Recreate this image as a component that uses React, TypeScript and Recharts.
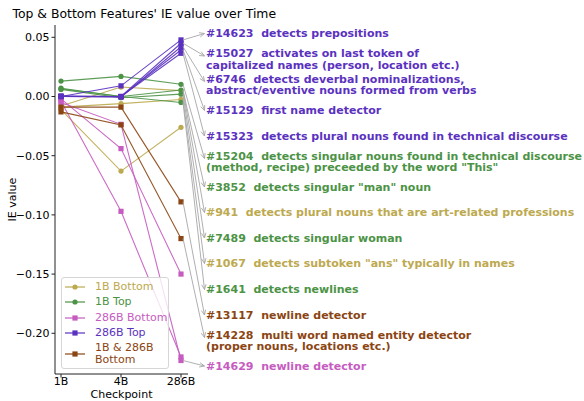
import React from 'react';
import { LineChart, Line, XAxis, YAxis, Legend, LabelList, Label } from 'recharts';

const checkpoints = ['1B', '4B', '286B'];

// IE value of each feature at 1B, 4B, 286B
const bottom1B = [
  [-0.008, 0.008, 0.005],
  [-0.009, -0.006, -0.0025],
  [-0.011, -0.063, -0.026],
];
const top1B = [
  [0.013, 0.017, 0.0103],
  [0.007, 0.0, 0.0055],
  [0.006, -0.001, 0.002],
  [0.0065, 0.0, -0.005],
];
const bottom286B = [
  [-0.002, -0.044, -0.15],
  [-0.004, -0.097, -0.22],
  [-0.005, -0.0235, -0.223],
];
const top286B = [
  [0.0, 0.009, 0.0478],
  [0.0, 0.0, 0.045],
  [0.0, -0.0005, 0.042],
  [0.0005, 0.0, 0.0393],
  [0.0, 0.0, 0.0365],
];
const bottomBoth = [
  [-0.009, -0.009, -0.089],
  [-0.013, -0.024, -0.12],
];

const yTicks = [-0.2, -0.15, -0.1, -0.05, 0, 0.05];

const groups = [
  { name: '1B Bottom', color: '#bda94f', shape: 'circle', values: bottom1B },
  { name: '1B Top', color: '#4c9346', shape: 'circle', values: top1B },
  { name: '286B Bottom', color: '#c65cc0', shape: 'square', values: bottom286B },
  { name: '286B Top', color: '#5b32c0', shape: 'square', values: top286B },
  { name: '1B & 286B\nBottom', color: '#8b4513', shape: 'square', values: bottomBoth },
];

// feature labels: which line (group, index) they point at
const featureNotes = [
  { group: 3, line: 0, text: ['#14623  detects prepositions'] },
  { group: 3, line: 1, text: ['#15027  activates on last token of', 'capitalized names (person, location etc.)'] },
  { group: 3, line: 2, text: ['#6746  detects deverbal nominalizations,', 'abstract/eventive nouns formed from verbs'] },
  { group: 3, line: 3, text: ['#15129  first name detector'] },
  { group: 3, line: 4, text: ['#15323  detects plural nouns found in technical discourse'] },
  { group: 1, line: 0, text: ['#15204  detects singular nouns found in technical discourse', '(method, recipe) preceeded by the word "This"'] },
  { group: 1, line: 1, text: ['#3852  detects singular "man" noun'] },
  { group: 0, line: 0, text: ['#941  detects plural nouns that are art-related professions'] },
  { group: 1, line: 2, text: ['#7489  detects singular woman'] },
  { group: 0, line: 1, text: ['#1067  detects subtoken "ans" typically in names'] },
  { group: 1, line: 3, text: ['#1641  detects newlines'] },
  { group: 4, line: 0, text: ['#13117  newline detector'] },
  { group: 4, line: 1, text: ['#14228  multi word named entity detector', '(proper nouns, locations etc.)'] },
  { group: 2, line: 2, text: ['#14629  newline detector'] },
];
const noteY = [33, 54, 79.5, 110, 135.5, 156.5, 186.5, 212, 237.5, 263, 289, 314.5, 335.5, 365.5];

const font = 'DejaVu Sans';

const data = checkpoints.map((c, i) => {
  const row: any = { ckpt: c };
  groups.forEach((g, gi) => g.values.forEach((v, vi) => { row[`g${gi}_${vi}`] = v[i]; }));
  return row;
});

const fmt = (v: number) => (v < 0 ? '\u2212' : '') + Math.abs(v).toFixed(2);

const makeDot = (color: string, shape: string) => (p: any) => {
  const { cx, cy, index } = p;
  if (cx == null || cy == null) return <g key={index} />;
  return shape === 'square'
    ? <rect key={index} x={cx - 2.6} y={cy - 2.6} width={5.2} height={5.2} fill={color} />
    : <circle key={index} cx={cx} cy={cy} r={2.6} fill={color} />;
};

const makeNote = (text: string[], color: string, ty: number) => (p: any) => {
  if (p.index !== 2) return null;
  const vb = p.viewBox || {};
  const px = p.x ?? vb.x;
  const py = p.y ?? vb.y;
  if (px == null || py == null) return null;
  const multi = text.length > 1;
  const tipX = 204.5;
  const tipY = multi ? ty + 2 : ty + 0.5;
  const dx = tipX - px;
  const dy = tipY - py;
  const len = Math.sqrt(dx * dx + dy * dy);
  const ux = dx / len;
  const uy = dy / len;
  const h1 = `${tipX - 5 * ux - 2.2 * uy},${tipY - 5 * uy + 2.2 * ux}`;
  const h2 = `${tipX - 5 * ux + 2.2 * uy},${tipY - 5 * uy - 2.2 * ux}`;
  const firstY = multi ? ty - 1 : ty;
  return (
    <g key={`note-${ty}`}>
      <line x1={px + 2} y1={py} x2={tipX} y2={tipY} stroke="#a6a6a6" strokeWidth={0.9} />
      <polyline points={`${h1} ${tipX},${tipY} ${h2}`} fill="none" stroke="#a6a6a6" strokeWidth={0.9} />
      {text.map((t, i) => (
        <text
          key={i}
          x={206}
          y={firstY + 4 + i * 11.8}
          fontFamily={font}
          fontWeight="bold"
          fontSize={11}
          fill={color}
          style={{ whiteSpace: 'pre' }}
        >
          {t}
        </text>
      ))}
    </g>
  );
};

const LegendBox = (props: any) => {
  const names = new Set((props.payload || []).map((e: any) => e.value));
  const items = groups.filter((g) => names.has(g.name));
  return (
    <div
      style={{
        boxSizing: 'border-box',
        width: 108,
        height: 92,
        border: '1px solid #d6d6d6',
        borderRadius: 3,
        background: 'rgba(255,255,255,0.8)',
        padding: '1px 0 0 3px',
        fontFamily: font,
        fontSize: 11,
      }}
    >
      {items.map((g) => {
        const twoLines = g.name.includes('\n');
        return (
          <div key={g.name} style={{ display: 'flex', alignItems: 'center', height: twoLines ? 25 : 15.5 }}>
            <svg width={20} height={8} style={{ marginRight: 10, flexShrink: 0 }}>
              <line x1={0} y1={4} x2={20} y2={4} stroke={g.color} strokeWidth={1.2} />
              {g.shape === 'square'
                ? <rect x={7.4} y={1.4} width={5.2} height={5.2} fill={g.color} />
                : <circle cx={10} cy={4} r={2.6} fill={g.color} />}
            </svg>
            <div style={{ color: g.color, whiteSpace: 'pre', lineHeight: '12px' }}>{g.name}</div>
          </div>
        );
      })}
    </div>
  );
};

const YLabel = () => (
  <text x={12} y={199.5} transform="rotate(-90 12 199.5)" textAnchor="middle" dominantBaseline="central" fontFamily={font} fontSize={11} fill="#000">
    IE value
  </text>
);

export default function App() {
  return (
    <div style={{ position: 'absolute', left: 0, top: 0, width: 584, height: 401, background: '#fff' }}>
      <div style={{ position: 'absolute', left: 12.5, top: 7, fontFamily: font, fontSize: 12.4, lineHeight: '14px', whiteSpace: 'nowrap', color: '#000' }}>
        Top &amp; Bottom Features' IE value over Time
      </div>
      <LineChart width={584} height={401} data={data} margin={{ top: 25, right: 396, bottom: 0, left: 0 }}>
        <XAxis
          dataKey="ckpt"
          padding={{ left: 6, right: 7 }}
          height={27}
          tickSize={3.5}
          tickMargin={0}
          tickLine={{ stroke: '#222' }}
          axisLine={{ stroke: '#222' }}
          tick={{ fill: '#000', fontSize: 11, fontFamily: font }}
        >
          <Label value="Checkpoint" position="insideBottom" offset={3} fill="#000" fontSize={11} fontFamily={font} />
        </XAxis>
        <XAxis xAxisId="top" orientation="top" dataKey="ckpt" padding={{ left: 6, right: 7 }} height={0} tick={false} tickLine={false} axisLine={{ stroke: '#222' }} />
        <YAxis
          type="number"
          domain={[-0.2344, 0.0604]}
          ticks={yTicks}
          tickFormatter={fmt}
          width={55}
          tickSize={3.5}
          tickLine={{ stroke: '#222' }}
          axisLine={{ stroke: '#222' }}
          tick={{ fill: '#000', fontSize: 11, fontFamily: font }}
        >
          <Label content={<YLabel />} />
        </YAxis>
        <YAxis yAxisId="right" orientation="right" type="number" domain={[-0.2344, 0.0604]} width={0} tick={false} tickLine={false} axisLine={{ stroke: '#222' }} />
        {groups.map((g, gi) =>
          g.values.map((_, vi) => {
            const ni = featureNotes.findIndex((n) => n.group === gi && n.line === vi);
            return (
              <Line
                key={`g${gi}_${vi}`}
                dataKey={`g${gi}_${vi}`}
                name={g.name}
                legendType={vi === 0 ? 'line' : 'none'}
                stroke={g.color}
                strokeWidth={1.1}
                strokeOpacity={0.9}
                dot={makeDot(g.color, g.shape)}
                activeDot={false}
                isAnimationActive={false}
              >
                {ni >= 0 && (
                  <LabelList content={makeNote(featureNotes[ni].text, g.color, noteY[ni])} />
                )}
              </Line>
            );
          })
        )}
        <Legend
          layout="vertical"
          align="center"
          verticalAlign="middle"
          content={<LegendBox />}
          wrapperStyle={{ left: 61, top: 277, width: 108, height: 92 }}
        />
      </LineChart>
    </div>
  );
}
